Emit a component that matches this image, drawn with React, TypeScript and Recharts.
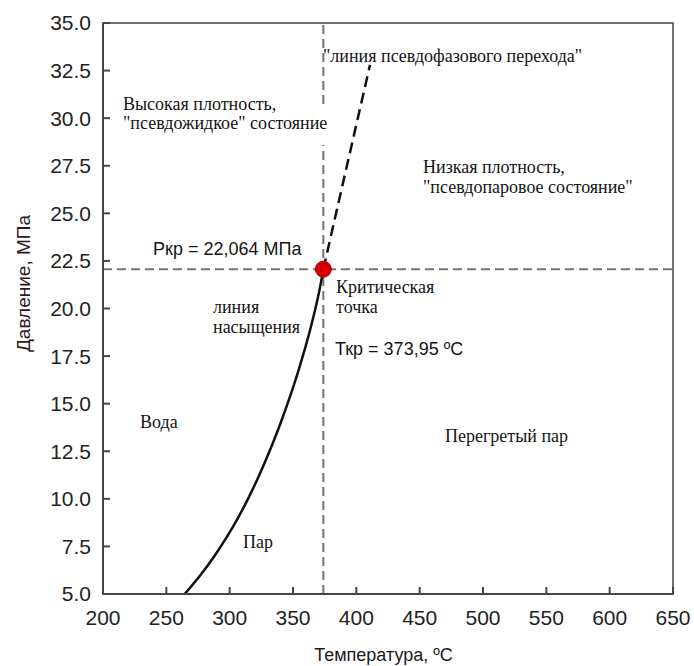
import React from 'react';
import {
  ComposedChart,
  Line,
  XAxis,
  YAxis,
  ReferenceLine,
  ReferenceDot,
  ReferenceArea,
} from 'recharts';

// Saturation line (temperature °C, pressure MPa)
const satTemps = [264.5, 277, 288, 297.8, 306.6, 314.5, 321.7, 328.3, 334.5, 340.3, 345.7, 350.8, 355.5, 359.9, 364, 367.7, 371, 373.95];
const satPress = [5, 6, 7, 8, 9, 10, 11, 12, 13, 14, 15, 16, 17, 18, 19, 20, 21, 22.064];

// Pseudo-phase transition line
const pseudoTemps = [373.95, 391.2, 410.8];
const pseudoPress = [22.064, 27.1, 32.8];

// Critical point
const critT = 373.95;
const critP = 22.064;

const xTicks = [200, 250, 300, 350, 400, 450, 500, 550, 600, 650];
const yTicks = [5, 7.5, 10, 12.5, 15, 17.5, 20, 22.5, 25, 27.5, 30, 32.5, 35];

const satData = satTemps.map((t, i) => ({ t, p: satPress[i] }));
const pseudoData = pseudoTemps.map((t, i) => ({ t, p: pseudoPress[i] }));

const W = 694;
const H = 666;
const SERIF = '"Liberation Serif", "Times New Roman", serif';
const SANS = '"Liberation Sans", Arial, sans-serif';

export default function App() {
  const serif = { fontFamily: SERIF, fontSize: 18, fill: '#141414' };
  const sans = { fontFamily: SANS, fontSize: 18, fill: '#141414' };
  return (
    <div style={{ position: 'absolute', left: 0, top: 0, width: W, height: H, background: '#fff' }}>
      <ComposedChart
        width={W}
        height={H}
        margin={{ top: 23, right: 21, left: 0, bottom: 0 }}
      >
        <XAxis
          type="number"
          dataKey="t"
          domain={[200, 650]}
          ticks={xTicks}
          allowDataOverflow
          height={72}
          tickSize={-7}
          tickMargin={23}
          stroke="#444"
          strokeWidth={2}
          tick={{ fill: '#222', fontSize: 21, fontFamily: SANS }}
        />
        <YAxis
          type="number"
          domain={[5, 35]}
          ticks={yTicks}
          allowDataOverflow
          width={103}
          tickSize={-7}
          tickMargin={19}
          stroke="#444"
          strokeWidth={2}
          tickFormatter={(v: number) => v.toFixed(1)}
          tick={{ fill: '#222', fontSize: 21, fontFamily: SANS }}
        />
        <ReferenceArea x1={200} x2={650} y1={5} y2={35} fill="none" fillOpacity={0} stroke="#444" strokeWidth={1.5} />
        <ReferenceLine x={critT} stroke="#737373" strokeWidth={2} strokeDasharray="9 5" />
        <ReferenceLine y={critP} stroke="#737373" strokeWidth={2} strokeDasharray="9 5" />
        <Line
          data={satData}
          dataKey="p"
          type="natural"
          stroke="#111"
          strokeWidth={2.5}
          dot={false}
          isAnimationActive={false}
        />
        <Line
          data={pseudoData}
          dataKey="p"
          type="linear"
          stroke="#111"
          strokeWidth={2.5}
          strokeDasharray="11 6"
          dot={false}
          isAnimationActive={false}
        />
        <ReferenceDot x={critT} y={critP} r={8} fill="#d40000" stroke="#b00000" strokeWidth={1} />
      </ComposedChart>
      <svg
        width={W}
        height={H}
        style={{ position: 'absolute', left: 0, top: 0, pointerEvents: 'none' }}
      >
        <rect x={314} y={108} width={22} height={37} fill="#fff" />
        <text x={123} y={110} {...serif}>Высокая плотность,</text>
        <text x={123} y={129} {...serif}>"псевдожидкое" состояние</text>
        <text x={323} y={62} {...serif}>"линия псевдофазового перехода"</text>
        <text x={423} y={173} {...serif}>Низкая плотность,</text>
        <text x={423} y={193} {...serif}>"псевдопаровое состояние"</text>
        <text x={336} y={293} {...serif}>Критическая</text>
        <text x={336} y={313} {...serif}>точка</text>
        <text x={213} y={313} {...serif}>линия</text>
        <text x={213} y={333} {...serif}>насыщения</text>
        <text x={140} y={428} {...serif}>Вода</text>
        <text x={445} y={442} {...serif}>Перегретый пар</text>
        <text x={243} y={548} {...serif}>Пар</text>
        <text x={153} y={255} {...sans}>Ркр = 22,064 МПа</text>
        <text x={335} y={355} {...sans}>Ткр = 373,95 ºC</text>
        <text x={383.5} y={661} textAnchor="middle" fontFamily={SANS} fontSize={18} fill="#1a1a1a">
          Температура, ºC
        </text>
        <text
          x={30}
          y={283.5}
          textAnchor="middle"
          fontFamily={SANS}
          fontSize={19}
          fill="#2a1a1a"
          transform="rotate(-90 30 283.5)"
        >
          Давление, МПа
        </text>
      </svg>
    </div>
  );
}
